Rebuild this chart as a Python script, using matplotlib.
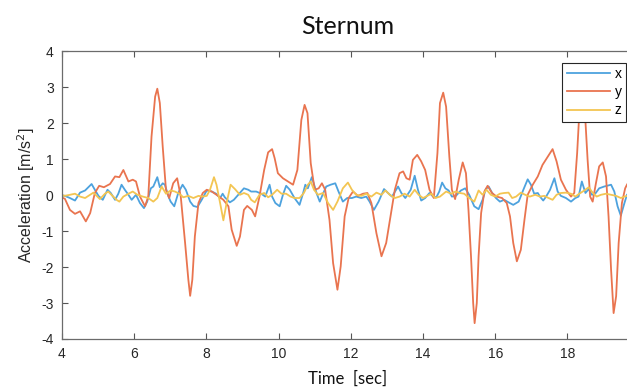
import matplotlib
matplotlib.use("Agg")
import matplotlib.pyplot as plt

# ---- data ----
t_x = [3.94, 4.08, 4.22, 4.36, 4.50, 4.64, 4.82, 4.91, 5.01, 5.13, 5.26, 5.35, 5.47, 5.56, 5.65, 5.74,
       5.84, 5.93, 6.05, 6.16, 6.27, 6.36, 6.46, 6.53, 6.64, 6.71, 6.79, 6.85, 6.95, 7.01, 7.11, 7.22,
       7.34, 7.43, 7.55, 7.64, 7.75, 7.87, 8.01, 8.15, 8.27, 8.38, 8.45, 8.51, 8.65, 8.76, 8.91, 9.04,
       9.16, 9.24, 9.38, 9.52, 9.63, 9.75, 9.82, 9.91, 10.03, 10.12, 10.21, 10.31, 10.44, 10.58, 10.68,
       10.74, 10.81, 10.92, 11.00, 11.05, 11.14, 11.23, 11.32, 11.44, 11.57, 11.66, 11.78, 11.90, 12.03,
       12.15, 12.29, 12.43, 12.52, 12.64, 12.77, 12.92, 13.03, 13.14, 13.31, 13.40, 13.51, 13.66, 13.77,
       13.86, 13.95, 14.06, 14.18, 14.28, 14.37, 14.45, 14.53, 14.62, 14.71, 14.80, 14.91, 15.05, 15.17,
       15.28, 15.42, 15.54, 15.65, 15.74, 15.82, 15.91, 16.02, 16.13, 16.25, 16.37, 16.50, 16.65, 16.78,
       16.90, 16.99, 17.08, 17.18, 17.24, 17.33, 17.41, 17.52, 17.64, 17.73, 17.82, 17.96, 18.10, 18.22,
       18.31, 18.40, 18.50, 18.59, 18.68, 18.77, 18.88, 19.02, 19.21, 19.30, 19.39, 19.48, 19.58, 19.65,
       19.75, 19.85]
acc_x = [0.00, -0.02, -0.08, -0.15, 0.07, 0.13, 0.31, 0.15, -0.02, -0.13, 0.15, 0.06, -0.13, 0.04, 0.29, 0.15,
         0.01, -0.13, 0.01, -0.22, -0.36, -0.18, 0.19, 0.24, 0.50, 0.22, 0.33, 0.29, -0.04, -0.18, -0.31, 0.06,
         0.29, 0.15, -0.18, -0.30, -0.33, -0.13, 0.13, 0.10, 0.04, -0.08, 0.04, -0.06, -0.20, -0.13, 0.04, 0.19,
         0.15, 0.10, 0.10, 0.04, -0.04, 0.29, -0.04, -0.22, -0.31, 0.01, 0.26, 0.15, -0.08, -0.27, 0.06,
         0.29, 0.19, 0.50, 0.24, 0.06, -0.18, 0.04, 0.24, 0.29, 0.33, 0.10, -0.18, -0.08, -0.08,
         -0.04, -0.08, -0.04, -0.18, -0.41, -0.18, 0.17, 0.06, -0.04, 0.24, 0.06, -0.08, 0.15, 0.54,
         0.15, -0.15, -0.08, 0.06, -0.04, -0.06, 0.10, 0.35, 0.19, 0.13, -0.04, -0.02, 0.13, 0.19,
         0.01, -0.31, -0.39, -0.13, 0.17, 0.24, 0.07, -0.08, -0.18, -0.13, -0.20, -0.27, -0.18, 0.15,
         0.44, 0.29, 0.04, 0.06, -0.04, -0.15, -0.04, 0.15, 0.47, 0.10, -0.02, -0.08, -0.18, -0.08,
         -0.04, 0.38, 0.06, 0.17, 0.01, 0.04, 0.19, 0.24, 0.29, 0.10, -0.31, -0.57, -0.22, 0.01,
         0.10, 0.05]

t_y = [3.94, 4.08, 4.22, 4.36, 4.50, 4.66, 4.78, 4.91, 5.03, 5.16, 5.33, 5.47, 5.59, 5.70, 5.84, 5.96,
       6.05, 6.16, 6.30, 6.39, 6.48, 6.58, 6.64, 6.71, 6.79, 6.88, 6.97, 7.08, 7.19, 7.29, 7.41, 7.50,
       7.55, 7.61, 7.68, 7.78, 7.90, 8.01, 8.15, 8.28, 8.47, 8.61, 8.70, 8.84, 8.93, 9.04, 9.13, 9.26,
       9.35, 9.47, 9.60, 9.71, 9.82, 9.89, 9.98, 10.12, 10.26, 10.40, 10.52, 10.63, 10.72, 10.80, 10.89,
       11.00, 11.11, 11.20, 11.29, 11.41, 11.51, 11.63, 11.72, 11.83, 11.94, 12.06, 12.20, 12.34, 12.46,
       12.57, 12.71, 12.85, 12.98, 13.10, 13.22, 13.35, 13.45, 13.54, 13.63, 13.72, 13.84, 13.95, 14.06,
       14.18, 14.30, 14.40, 14.47, 14.56, 14.64, 14.73, 14.80, 14.89, 14.99, 15.10, 15.19, 15.26, 15.33,
       15.39, 15.43, 15.49, 15.54, 15.61, 15.70, 15.79, 15.91, 16.04, 16.19, 16.32, 16.41, 16.50, 16.60,
       16.71, 16.81, 16.90, 17.04, 17.18, 17.31, 17.45, 17.59, 17.70, 17.82, 17.96, 18.10, 18.19, 18.27,
       18.33, 18.40, 18.50, 18.56, 18.63, 18.70, 18.79, 18.88, 18.98, 19.07, 19.14, 19.21, 19.28, 19.35,
       19.42, 19.51, 19.60, 19.65, 19.75, 19.85]
acc_y = [-0.04, -0.10, -0.41, -0.52, -0.45, -0.73, -0.50, 0.06, 0.26, 0.22, 0.31, 0.52, 0.50, 0.70, 0.38, 0.43,
         0.38, -0.04, -0.31, -0.04, 1.63, 2.74, 2.96, 2.56, 1.35, 0.15, -0.08, 0.33, 0.47, -0.04, -1.33, -2.35,
         -2.80, -2.35, -1.15, -0.22, 0.06, 0.15, 0.10, 0.01, -0.13, -0.31, -0.96, -1.41, -1.15, -0.41, -0.30, -0.41,
         -0.59, -0.04, 0.70, 1.19, 1.28, 1.03, 0.61, 0.47, 0.38, 0.29, 0.70, 2.09, 2.51, 2.28, 0.89,
         0.15, 0.19, 0.33, 0.15, -0.69, -1.89, -2.63, -1.98, -0.59, -0.08, 0.10, -0.02, 0.04, 0.06,
         -0.22, -1.06, -1.70, -1.33, -0.59, 0.15, 0.61, 0.66, 0.47, 0.43, 0.98, 1.12, 0.94, 0.70,
         0.15, -0.08, 1.17, 2.56, 2.85, 2.46, 1.07, 0.15, -0.11, 0.43, 0.91, 0.61, -0.41, -1.70,
         -3.00, -3.56, -3.00, -1.70, -0.50, 0.10, 0.26, 0.06, -0.04, -0.08, -0.22, -0.59, -1.33, -1.84,
         -1.52, -0.69, 0.01, 0.29, 0.52, 0.84, 1.06, 1.28, 0.94, 0.43, 0.15, -0.04, 0.06, 1.17,
         2.28, 2.90, 2.05, 0.98, -0.04, -0.18, 0.33, 0.80, 0.91, 0.52, -0.59, -2.07, -3.28, -2.81,
         -1.33, -0.22, 0.19, 0.29, 0.45, 0.50]

t_z = [3.94, 4.08, 4.22, 4.36, 4.50, 4.64, 4.78, 4.87, 4.98, 5.05, 5.19, 5.28, 5.40, 5.51, 5.59, 5.70,
       5.84, 5.96, 6.09, 6.24, 6.39, 6.53, 6.64, 6.76, 6.88, 7.01, 7.13, 7.25, 7.36, 7.50, 7.64, 7.78,
       7.90, 8.01, 8.10, 8.21, 8.28, 8.38, 8.47, 8.56, 8.67, 8.79, 8.93, 9.04, 9.16, 9.24, 9.34, 9.47,
       9.60, 9.71, 9.82, 9.96, 10.08, 10.21, 10.33, 10.44, 10.58, 10.70, 10.81, 10.89, 10.98, 11.09,
       11.23, 11.37, 11.51, 11.63, 11.78, 11.92, 12.03, 12.15, 12.29, 12.43, 12.57, 12.71, 12.85, 12.96,
       13.08, 13.22, 13.35, 13.49, 13.63, 13.77, 13.88, 14.00, 14.12, 14.23, 14.34, 14.47, 14.64, 14.78,
       14.90, 15.02, 15.14, 15.28, 15.42, 15.54, 15.65, 15.76, 15.88, 16.00, 16.13, 16.25, 16.37, 16.47,
       16.58, 16.71, 16.83, 16.96, 17.11, 17.24, 17.36, 17.48, 17.59, 17.70, 17.82, 17.96, 18.10, 18.22,
       18.33, 18.47, 18.59, 18.70, 18.81, 18.93, 19.07, 19.21, 19.35, 19.48, 19.58, 19.65, 19.75, 19.85]
acc_z = [0.01, -0.02, 0.01, 0.04, -0.04, -0.08, 0.01, 0.07, -0.04, -0.11, 0.04, 0.10, -0.02, -0.13, -0.18, -0.04,
         0.04, 0.10, 0.01, -0.04, -0.08, -0.18, -0.08, 0.24, 0.04, 0.13, 0.10, 0.04, -0.06, -0.02, -0.08, -0.02,
         -0.04, -0.02, 0.15, 0.50, 0.29, -0.22, -0.70, -0.22, 0.29, 0.17, 0.01, 0.06, 0.01, -0.13, -0.20, 0.01,
         0.06, -0.06, 0.01, 0.15, 0.04, 0.04, -0.04, -0.08, -0.08, 0.06, 0.29, 0.38, 0.15, 0.01,
         0.06, -0.22, -0.41, -0.18, 0.19, 0.35, 0.15, 0.01, -0.02, 0.04, -0.04, 0.07, 0.01, 0.13,
         0.01, -0.08, -0.04, 0.04, -0.04, 0.15, 0.01, -0.08, -0.02, 0.04, -0.08, -0.04, 0.10, 0.04,
         0.10, 0.06, 0.04, -0.08, -0.18, 0.13, 0.01, 0.15, 0.01, -0.04, 0.04, 0.06, 0.07, -0.08,
         -0.04, 0.07, 0.01, -0.04, 0.01, -0.04, -0.02, -0.08, -0.13, 0.01, 0.06, 0.07, 0.04, -0.04,
         0.04, 0.13, 0.22, 0.07, -0.04, 0.01, 0.04, 0.01, -0.02, -0.08, -0.04, -0.02, 0.00, 0.01]

series_names = ["x", "y", "z"]
series_colors = ["#4DA2DE", "#E9744F", "#F3C552"]
x_ticks = [4, 6, 8, 10, 12, 14, 16, 18]
y_ticks = [-4, -3, -2, -1, 0, 1, 2, 3, 4]

plt.rcParams["axes.unicode_minus"] = False
fig = plt.figure(figsize=(6.27, 3.89), dpi=100)
ax = fig.add_axes([62 / 627, 1 - 339 / 389, (634 - 62) / 627, (339 - 51.3) / 389])

for tt, vv, name, col in zip([t_x, t_y, t_z], [acc_x, acc_y, acc_z], series_names, series_colors):
    ax.plot(tt, vv, color=col, lw=1.3, label=name, solid_joinstyle="round")

ax.set_xlim(4, 19.845)
ax.set_ylim(-4, 4)
ax.set_xticks(x_ticks)
ax.set_yticks(y_ticks)
tick_font = "Liberation Sans"
ax.tick_params(direction="in", top=True, right=True, length=4, width=0.8, color="#555555",
               labelsize=10, labelcolor="#262626", pad=6)
for lab in ax.get_xticklabels() + ax.get_yticklabels():
    lab.set_fontfamily(tick_font)
for sp in ax.spines.values():
    sp.set_color("#6b6b6b")
    sp.set_linewidth(0.9)

ax.set_ylabel("Acceleration [m/s$^2$]", fontsize=11.5, family=tick_font, color="#262626", labelpad=3)
fig.text(348 / 627, 1 - 379 / 389, "Time  [sec]", ha="center", va="center", fontsize=12,
         family="Lato", color="#111111")
fig.text(348 / 627, 1 - 27 / 389, "Sternum", ha="center", va="center", fontsize=18,
         family="Lato", color="#111111")

leg = ax.legend(loc="upper right", bbox_to_anchor=(626 / 627, 1 - 62.7 / 389),
                bbox_transform=fig.transFigure, borderaxespad=0, frameon=True, fancybox=False,
                framealpha=1, edgecolor="#262626", handlelength=3.1, handletextpad=0.36,
                borderpad=0.32, labelspacing=0.3, prop={"family": tick_font, "size": 10})
leg.get_frame().set_linewidth(0.8)

fig.savefig("out.png", dpi=100)
